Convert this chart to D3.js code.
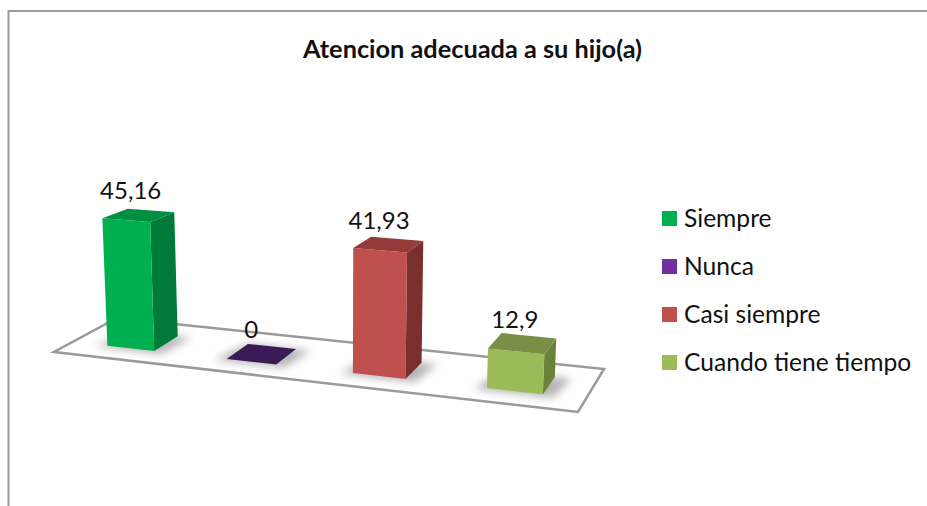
<!doctype html>
<html lang="es">
<head>
<meta charset="utf-8" />
<style>
  html, body { margin: 0; background: #fff; }
  svg { display: block; }
  text { font-family: Lato, "Open Sans", sans-serif; fill: #111; }
  .title { font-size: 24px; font-weight: bold; text-anchor: middle; }
  .value { font-size: 24px; text-anchor: middle; }
  .legend { font-size: 24.6px; }
</style>
</head>
<body>
<div id="chart"></div>
<script src="https://d3js.org/d3.v7.min.js"></script>
<script>
const categories = ["Siempre", "Nunca", "Casi siempre", "Cuando tiene tiempo"];
const values = [45.16, 0, 41.93, 12.9];
const labels = ["45,16", "0", "41,93", "12,9"];
const frontColors = ["#00B050", "#3A1A54", "#C0504D", "#9BBB59"];
const sideColors = ["#007A38", "#3A1A54", "#7B2F2D", "#6B823A"];
const topColors = ["#008E41", "#3A1A54", "#953A38", "#788F45"];
const legendColors = ["#00B050", "#7030A0", "#C0504D", "#9BBB59"];

const width = 927, height = 506;

const svg = d3.select("#chart").append("svg")
  .attr("width", width)
  .attr("height", height);

const defs = svg.append("defs");
defs.append("filter").attr("id", "soft")
  .attr("x", "-30%").attr("y", "-60%").attr("width", "160%").attr("height", "220%")
  .append("feGaussianBlur").attr("stdDeviation", 4);

// chart frame, only top and left survive the crop
svg.append("path")
  .attr("d", "M927,11H8.5V506")
  .attr("fill", "none")
  .attr("stroke", "#999")
  .attr("stroke-width", 2);

svg.append("text").attr("class", "title")
  .attr("x", 472.5).attr("y", 58)
  .attr("textLength", 339)
  .attr("lengthAdjust", "spacingAndGlyphs")
  .text("Atencion adecuada a su hijo(a)");

// the 3d floor, corners
const floor = { a: [54, 352], b: [578, 412], c: [604, 369], d: [117, 318] };

const x = d3.scaleBand().domain(categories).range([0, 1])
  .paddingInner(0.6).paddingOuter(0.3);
const depth = d3.scaleLinear().domain([0, 1]).range([0.3, 0.71]);
const y = d3.scaleLinear().domain([0, 50]).range([0, 140]);

// perspective along the front edge
const warp = t => t / (t + 1.125 * (1 - t));

function floorPoint(t, v) {
  const u = warp(t);
  const f = k => floor.a[k] + u * (floor.b[k] - floor.a[k]) + v * (floor.d[k] - floor.a[k])
    + u * v * (floor.a[k] - floor.b[k] + floor.c[k] - floor.d[k]);
  return [f(0), f(1), u];
}

// t across, v into the picture, val is the chart value
function project(t, v, val) {
  const [px, py, u] = floorPoint(t, v);
  const h = y(val) * (1 + 0.118 * u) * (1 - 0.09 * (v - 0.3));
  return [px + 0.00017 * (px - 340) * h, py - h];
}

const line = d3.line();

svg.append("path")
  .attr("d", line([floor.a, floor.b, floor.c, floor.d]) + "Z")
  .attr("fill", "#fff")
  .attr("stroke", "#9a9a9a")
  .attr("stroke-width", 2.5)
  .attr("stroke-linejoin", "miter");

const bars = svg.append("g").selectAll("g")
  .data(categories)
  .join("g");

bars.each(function(c, i) {
  const g = d3.select(this);
  const t0 = x(c), t1 = x(c) + x.bandwidth();
  const v0 = depth(0), v1 = depth(1);
  const val = values[i];

  // soft shadow under the bar
  const s0 = t0 - 0.02, s1 = t1 + 0.02;
  g.append("path")
    .attr("d", line([project(s0, v0 - 0.05, 0), project(s1, v0 - 0.05, 0), project(s1 + 0.01, v1, 0), project(t0, v1, 0)]) + "Z")
    .attr("fill", "#777")
    .attr("opacity", 0.55)
    .attr("filter", "url(#soft)");

  if (val > 0) {
    g.append("path")
      .attr("d", line([project(t1, v0, 0), project(t1, v1, 0), project(t1, v1, val), project(t1, v0, val)]) + "Z")
      .attr("fill", sideColors[i]);
    g.append("path")
      .attr("d", line([project(t0, v0, 0), project(t1, v0, 0), project(t1, v0, val), project(t0, v0, val)]) + "Z")
      .attr("fill", frontColors[i]);
  }
  g.append("path")
    .attr("d", line([project(t0, v0, val), project(t1, v0, val), project(t1, v1, val), project(t0, v1, val)]) + "Z")
    .attr("fill", topColors[i]);

  // label sits over the foot of the front face, at the height of the top
  const mid = t0 + x.bandwidth() / 2;
  g.append("text").attr("class", "value")
    .attr("x", project(mid, v0, 0)[0])
    .attr("y", project(mid, depth(0.5), val)[1] - 16)
    .text(labels[i]);
});

// legend
const legendY = d3.scalePoint().domain(categories).range([218.5, 362.5]);
const legend = svg.append("g").selectAll("g")
  .data(categories)
  .join("g")
  .attr("transform", d => `translate(662,${legendY(d)})`);

legend.append("rect")
  .attr("y", -7.5)
  .attr("width", 15)
  .attr("height", 15)
  .attr("fill", (d, i) => legendColors[i]);

legend.append("text").attr("class", "legend")
  .attr("x", 22)
  .attr("y", 8)
  .text(d => d);
</script>
</body>
</html>
